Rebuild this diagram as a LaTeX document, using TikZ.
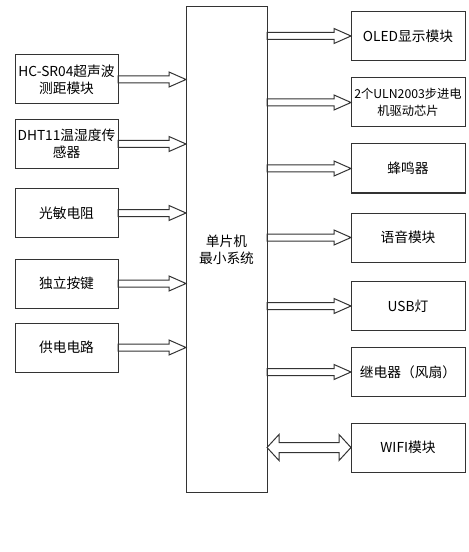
\documentclass[tikz,border=0pt]{standalone}
\usepackage{fontspec}
\setmainfont{Noto Sans CJK SC}
\usepackage{tikz}
\usetikzlibrary{calc}

\begin{document}
\begin{tikzpicture}[
    x=0.75pt, y=-0.75pt,
    line width=0.75pt,
    draw=black!80,
    font=\fontsize{10.3pt}{12.5pt}\selectfont,
    box/.style={rectangle, draw, minimum width=77.25pt, minimum height=36.75pt, inner sep=1pt, outer sep=0pt, align=center},
    rbox/.style={box, minimum width=85.5pt},
    mcubox/.style={rectangle, draw, minimum width=60.75pt, minimum height=363.75pt, outer sep=0pt, align=center},
    fat/.style={to path={
      -- ($(\tikztostart)+(0,-3.5)$) -- ($(\tikztotarget)+(-17,-3.5)$) -- ($(\tikztotarget)+(-17,-7.5)$)
      -- (\tikztotarget) -- ($(\tikztotarget)+(-17,7.5)$) -- ($(\tikztotarget)+(-17,3.5)$)
      -- ($(\tikztostart)+(0,3.5)$) -- cycle}},
    fatboth/.style={to path={
      -- ($(\tikztostart)+(12,-13)$) -- ($(\tikztostart)+(12,-5)$) -- ($(\tikztotarget)+(-12,-5)$)
      -- ($(\tikztotarget)+(-12,-13)$) -- (\tikztotarget) -- ($(\tikztotarget)+(-12,13)$)
      -- ($(\tikztotarget)+(-12,5)$) -- ($(\tikztostart)+(12,5)$) -- ($(\tikztostart)+(12,13)$) -- cycle}}
  ]
  \useasboundingbox (0,0) rectangle (468,552);

  % Nodes
  \node[mcubox] (mcu) at (226.5,249.5) {单片机\\最小系统};

  \node[box] (sonar) at (66.5,79.5) {HC-SR04超声波\\测距模块};
  \node[box] (dht) at (66.5,144) {DHT11温湿度传\\感器};
  \node[box] (ldr) at (66.5,213) {光敏电阻};
  \node[box] (keys) at (66.5,283.5) {独立按键};
  \node[box] (power) at (66.5,347.5) {供电电路};

  \node[rbox] (oled) at (408,36) {OLED显示模块};
  \node[rbox, inner sep=0pt, font=\fontsize{9.2pt}{12.5pt}\selectfont] (uln) at (408,102.5) {2个ULN2003步进电\\机驱动芯片};
  \node[rbox] (buzzer) at (408,168.5) {蜂鸣器};
  \node[rbox] (voice) at (408,237.5) {语音模块};
  \node[rbox] (usb) at (408,306) {USB灯};
  \node[rbox] (relay) at (408,372) {继电器（风扇）};
  \node[rbox] (wifi) at (408,447.5) {WIFI模块};

  % Edges
  \draw[fat] (sonar.east) to (mcu.west |- sonar);
  \draw[fat] (dht.east) to (mcu.west |- dht);
  \draw[fat] (ldr.east) to (mcu.west |- ldr);
  \draw[fat] (keys.east) to (mcu.west |- keys);
  \draw[fat] (power.east) to (mcu.west |- power);

  \draw[fat] (mcu.east |- oled) to (oled.west);
  \draw[fat] (mcu.east |- uln) to (uln.west);
  \draw[fat] (mcu.east |- buzzer) to (buzzer.west);
  \draw[fat] (mcu.east |- voice) to (voice.west);
  \draw[fat] (mcu.east |- usb) to (usb.west);
  \draw[fat] (mcu.east |- relay) to (relay.west);
  \draw[fatboth] (mcu.east |- wifi) to (wifi.west);

\end{tikzpicture}
\end{document}
